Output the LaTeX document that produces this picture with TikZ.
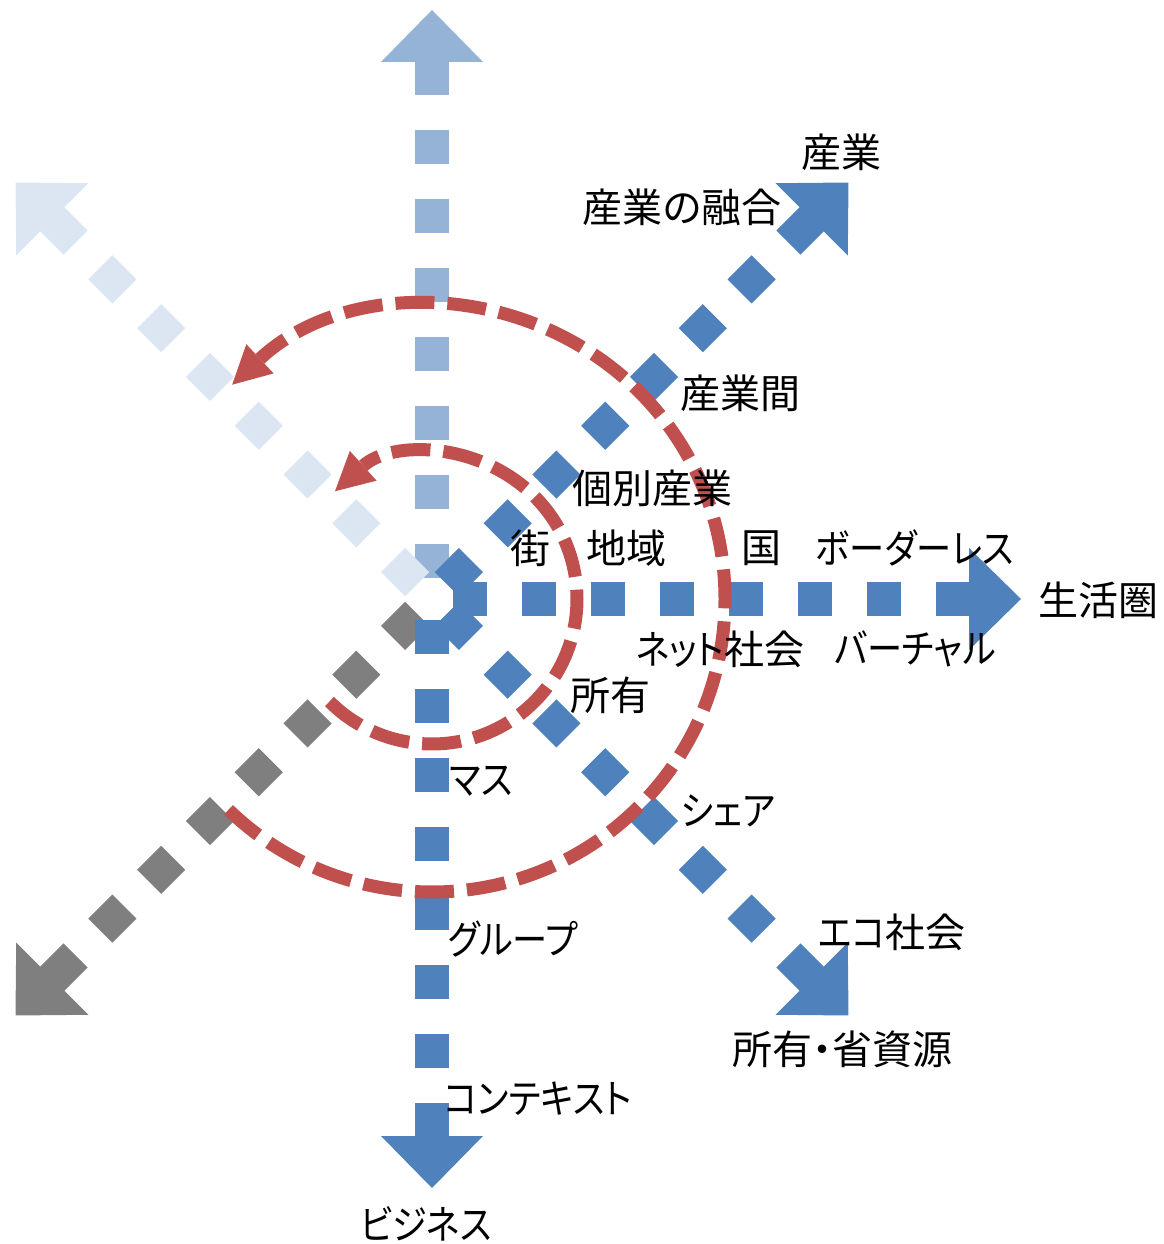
\documentclass[tikz,border=0pt]{standalone}
\usepackage{fontspec}
\setmainfont{Noto Sans CJK JP}[RawFeature=+palt]
\newfontfamily\kana{Noto Sans CJK JP}[RawFeature=+palt, FakeStretch=0.88]
\usetikzlibrary{arrows.meta}
\definecolor{armblue}{HTML}{4F81BD}
\definecolor{armsky}{HTML}{95B3D7}
\definecolor{armpale}{HTML}{DCE6F2}
\definecolor{armgray}{HTML}{7F7F7F}
\definecolor{ringred}{HTML}{C0504D}
\tikzset{
  arm/.style={line width=34pt, dash pattern=on 34pt off 35pt},
  ring/.style={ringred, line width=13pt, dash pattern=on 39pt off 13pt,
    -{Triangle[length=38pt,width=40pt,line width=0pt]}},
  lbl/.style={inner sep=0pt, font=\fontsize{40}{44}\selectfont}
}

\begin{document}
\begin{tikzpicture}[x=1pt,y=1pt]
	\useasboundingbox (-432,-645) rectangle (731,599);
	\coordinate (o) at (0,0);
	% pale arms
	\draw[arm, armsky, rotate=90] (21,0) -- (538,0);
	\fill[armsky, rotate=90] (537,51) -- (589,0) -- (537,-51) -- cycle;
	\draw[arm, armpale, rotate=135] (21,0) -- (538,0);
	\fill[armpale, rotate=135] (537,51) -- (589,0) -- (537,-51) -- cycle;
	\draw[arm, armgray, rotate=225] (21,0) -- (538,0);
	\fill[armgray, rotate=225] (537,51) -- (589,0) -- (537,-51) -- cycle;
	% blue arms
	\draw[arm, armblue] (21,0) -- (538,0);
	\fill[armblue] (537,51) -- (589,0) -- (537,-51) -- cycle;
	\draw[arm, armblue, rotate=45] (21,0) -- (538,0);
	\fill[armblue, rotate=45] (537,51) -- (589,0) -- (537,-51) -- cycle;
	\draw[arm, armblue, rotate=-45] (21,0) -- (538,0);
	\fill[armblue, rotate=-45] (537,51) -- (589,0) -- (537,-51) -- cycle;
	\draw[arm, armblue, rotate=-90] (21,0) -- (538,0);
	\fill[armblue, rotate=-90] (537,51) -- (589,0) -- (537,-51) -- cycle;
	% rings
	\draw[ring] (o) ++(-135:145) arc[start angle=-135, end angle=132, radius=145];
	\draw[ring] (o) ++(-134:293) arc[start angle=-134, end angle=133, radius=293];
	% labels
	\node[lbl] (sangyo) at (409,447) {産業};
	\node[lbl] (yugo) at (250,392) {産業の融合};
	\node[lbl] (sangyokan) at (308,206) {産業間};
	\node[lbl] (kobetsu) at (220,111) {個別産業};
	\node[lbl] (machi) at (98,51) {街};
	\node[lbl] (chiiki) at (194,51) {地域};
	\node[lbl] (kuni) at (329,51) {国};
	\node[lbl] (border) at (483,51) {\kana ボーダーレス};
	\node[lbl] (seikatsu) at (666,-1) {生活圏};
	\node[lbl] (net) at (288,-50) {{\kana ネット}社会};
	\node[lbl] (virtual) at (483,-50) {\kana バーチャル};
	\node[lbl] (shoyu) at (178,-96) {所有};
	\node[lbl] (masu) at (49,-182) {\kana マス};
	\node[lbl] (share) at (296,-212) {\kana シェア};
	\node[lbl] (eco) at (460,-333) {{\kana エコ}社会};
	\node[lbl] (group) at (81,-340) {\kana グループ};
	\node[lbl] (shigen) at (410,-450) {所有・省資源};
	\node[lbl] (context) at (106,-500) {\kana コンテキスト};
	\node[lbl] (business) at (-6,-625) {\kana ビジネス};
\end{tikzpicture}
\end{document}
